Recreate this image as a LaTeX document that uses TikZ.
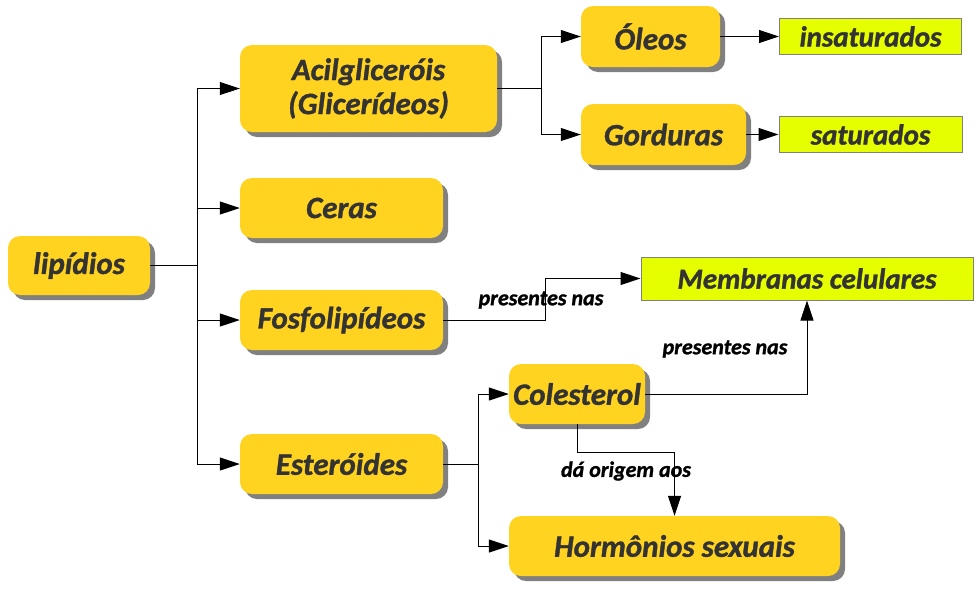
\documentclass[tikz,border=0pt]{standalone}
\usepackage{fontspec}
\setmainfont{Carlito}[BoldItalicFeatures={FakeBold=1.2}]
\usetikzlibrary{shadows,arrows.meta}
\definecolor{boxyellow}{HTML}{FFD320}
\definecolor{boxlime}{HTML}{E6FF00}
\definecolor{txtgray}{HTML}{333333}
\tikzset{
  ybox/.style={draw=none, fill=boxyellow, rounded corners=12pt, inner sep=0pt,
    drop shadow={shadow xshift=5pt, shadow yshift=-5pt, fill=black!50, opacity=1},
    text=txtgray, font=\fontsize{31}{34}\selectfont\bfseries\itshape, align=center},
  lbox/.style={draw=black!50, line width=1pt, fill=boxlime, inner sep=0pt,
    text=txtgray, font=\fontsize{29}{32}\selectfont\bfseries\itshape},
  arr/.style={-{Triangle[length=20pt,width=13pt]}, line width=1pt},
  ln/.style={line width=1pt},
  lab/.style={font=\fontsize{22}{24}\selectfont\bfseries\itshape, text=black}
}
\begin{document}
\begin{tikzpicture}[x=1pt,y=-1pt]
\useasboundingbox (0,0) rectangle (979,590);
\node[ybox, minimum width=142pt, minimum height=59pt] (lip) at (79,265.5) {lipídios};
\node[ybox, minimum width=257pt, minimum height=87pt] (acil) at (368.5,88.5) {Acilgliceróis\\(Glicerídeos)};
\node[ybox, minimum width=203pt, minimum height=60pt] (cer) at (341.5,208) {Ceras};
\node[ybox, minimum width=203pt, minimum height=60pt] (fos) at (341.5,320) {Fosfolipídeos};
\node[ybox, minimum width=203pt, minimum height=60pt] (est) at (341.5,464) {Esteróides};
\node[ybox, minimum width=139pt, minimum height=61pt] (ole) at (650.5,36.5) {Óleos};
\node[ybox, minimum width=165pt, minimum height=61pt] (gor) at (663.5,134.5) {Gorduras};
\node[lbox, minimum width=182pt, minimum height=36pt] (ins) at (870.5,36.5) {insaturados};
\node[lbox, minimum width=183pt, minimum height=36pt] (sat) at (870.5,134.5) {saturados};
\node[lbox, minimum width=332pt, minimum height=43pt] (mem) at (807,278.5) {Membranas celulares};
\node[ybox, minimum width=136pt, minimum height=60pt] (col) at (577,394) {Colesterol};
\node[ybox, minimum width=331pt, minimum height=60pt] (hor) at (674.5,546) {Hormônios sexuais};
% connectors
\coordinate (t1) at (197,265.5);
\draw[ln] (lip.east) -- (t1);
\draw[arr] (t1) |- (acil.west);
\draw[arr] (t1) |- (cer.west);
\draw[arr] (t1) |- (fos.west);
\draw[arr] (t1) |- (est.west);
\coordinate (t2) at (541,88.5);
\draw[ln] (acil.east) -- (t2);
\draw[arr] (t2) |- (ole.west);
\draw[arr] (t2) |- (gor.west);
\draw[arr] (ole.east) -- (ins.west);
\draw[arr] (gor.east) -- (sat.west);
\coordinate (f1) at (545,320);
\draw[arr] (fos.east) -- (f1) |- (mem.west);
\node[lab] (l1) at (541,300) {presentes nas};
\coordinate (t3) at (478,464);
\draw[ln] (est.east) -- (t3);
\draw[arr] (t3) |- (col.west);
\draw[arr] (t3) |- (hor.west);
\draw[arr] (col.east) -| (mem.south);
\node[lab] (l2) at (725,349) {presentes nas};
\coordinate (c1) at (577,452);
\draw[arr] (col.south) -- (c1) -| (hor.north);
\node[lab] (l3) at (626,471) {dá origem aos};
\end{tikzpicture}
\end{document}
